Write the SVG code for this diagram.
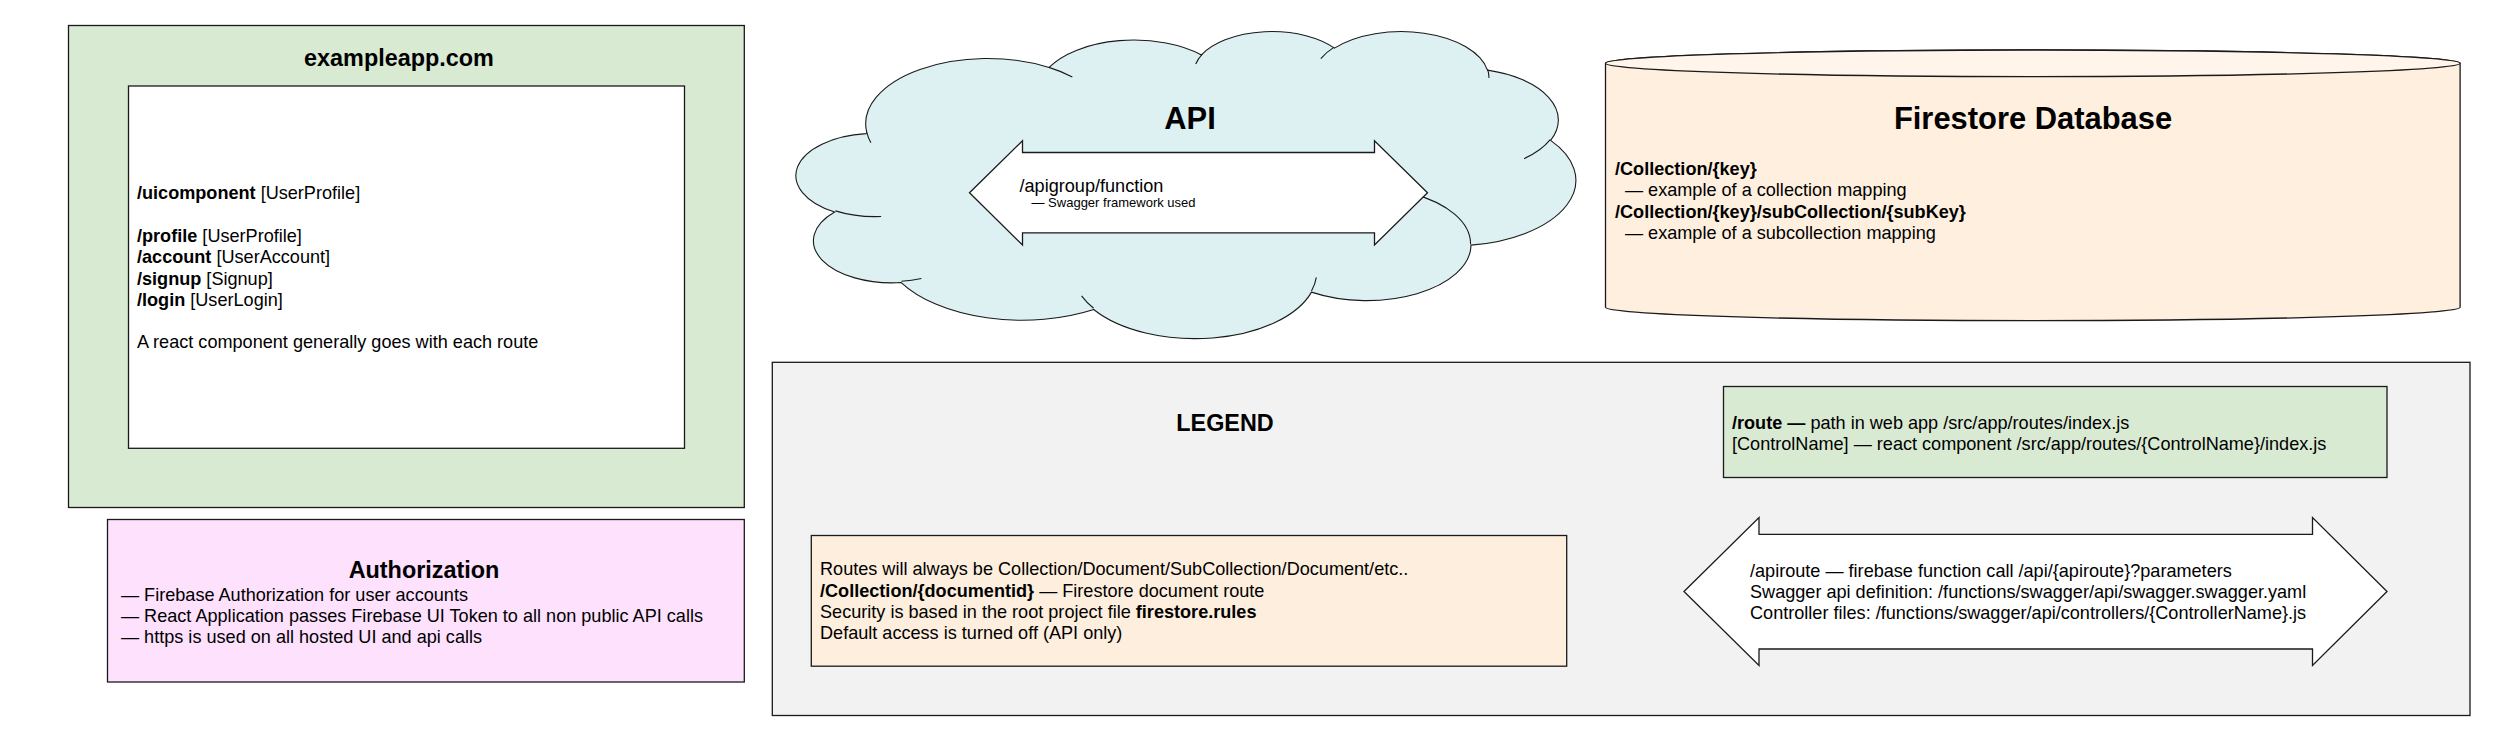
<svg xmlns="http://www.w3.org/2000/svg" width="2500" height="738" viewBox="0 0 2500 738">
<style>
  text { font-family: "Liberation Sans", Arial, sans-serif; fill: #000; }
  .b { font-size: 18.1px; }
  .s { font-size: 13px; }
  .h { font-size: 23.4px; font-weight: bold; }
  .H { font-size: 30.9px; font-weight: bold; }
  .bold { font-weight: bold; }
  .edge { stroke: #1a1a1a; stroke-width: 1.3; }
</style>
<rect x="0" y="0" width="2500" height="738" fill="#ffffff"/>

<g id="exampleapp">
  <rect class="edge" x="68.5" y="25.5" width="675.8" height="482" fill="#d9ead3"/>
  <text class="h" x="399" y="65.5" text-anchor="middle">exampleapp.com</text>
  <rect class="edge" x="128.5" y="86" width="556" height="362.3" fill="#ffffff"/>
  <text class="b" x="137" y="199.3"><tspan class="bold">/uicomponent</tspan> [UserProfile]</text>
  <text class="b" x="137" y="241.9"><tspan class="bold">/profile</tspan> [UserProfile]</text>
  <text class="b" x="137" y="263.2"><tspan class="bold">/account</tspan> [UserAccount]</text>
  <text class="b" x="137" y="284.5"><tspan class="bold">/signup</tspan> [Signup]</text>
  <text class="b" x="137" y="305.8"><tspan class="bold">/login</tspan> [UserLogin]</text>
  <text class="b" x="137" y="348.4">A react component generally goes with each route</text>
</g>

<g id="authorization">
  <rect class="edge" x="107.5" y="519.5" width="636.8" height="162.5" fill="#fde1fd"/>
  <text class="h" x="424" y="578.3" text-anchor="middle">Authorization</text>
  <text class="b" x="121" y="600.6">— Firebase Authorization for user accounts</text>
  <text class="b" x="121" y="621.9">— React Application passes Firebase UI Token to all non public API calls</text>
  <text class="b" x="121" y="643.2">— https is used on all hosted UI and api calls</text>
</g>

<g id="api">
  <g transform="translate(796.5 30.5) scale(0.018032 0.0071065)">
    <path d="M3900 14370 A6753 9190 0 0 1 14006 5203 A5333 7267 0 0 1 22457 3433 A4365 5945 0 0 1 29834 2482 A4857 6595 0 0 1 38320 5577 A5333 7273 0 0 1 41820 15461 A6775 9220 0 0 1 37406 30204 A5785 7867 0 0 1 28558 36815 A6752 9215 0 0 1 16482 39265 A7720 10543 0 0 1 5807 35471 A4360 5918 0 0 1 2115 25550 A4345 5945 0 0 1 3865 14506 Z" fill="#ddf0f2" stroke="#1a1a1a" stroke-width="1.1" vector-effect="non-scaling-stroke"/>
    <path d="M4693 26177 A4345 5945 0 0 1 2160 25380 M6928 34899 A4360 5918 0 0 1 5819 35281 M16478 39090 A6752 9215 0 0 1 15810 37350 M28827 34751 A6752 9215 0 0 1 28560 36660 M34129 22954 A5785 7867 0 0 1 37381 30090 M41798 15354 A5333 7273 0 0 1 40350 18030 M38324 5426 A4857 6595 0 0 1 38400 6690 M29078 3952 A4857 6595 0 0 1 29820 2341 M22141 4720 A4365 5945 0 0 1 22505 3318 M14000 5192 A6753 9190 0 0 1 15298 6538 M4127 15789 A6753 9190 0 0 1 3900 14370" fill="none" stroke="#1a1a1a" stroke-width="1.1" vector-effect="non-scaling-stroke"/>
  </g>
  <text class="H" x="1190" y="129" text-anchor="middle">API</text>
</g>

<g id="api-arrow">
  <polygon class="edge" points="969.5,192.8 1022.5,140.7 1022.5,152.5 1374.5,152.5 1374.5,140.7 1427.5,192.8 1374.5,245 1374.5,232.8 1022.5,232.8 1022.5,245" fill="#ffffff" stroke-width="1.1"/>
  <text class="b" x="1019.5" y="191.7">/apigroup/function</text>
  <text class="s" x="1031.5" y="207">— Swagger framework used</text>
</g>

<g id="firestore">
  <path class="edge" d="M1605.5 63.3 V307.3 A427.3 13.3 0 0 0 2460.1 307.3 V63.3 A427.3 13.3 0 0 0 1605.5 63.3 Z" fill="#feefde" stroke-width="1.1"/>
  <ellipse class="edge" cx="2032.8" cy="63.3" rx="427.3" ry="13.3" fill="#fff5eb" stroke-width="1.1"/>
  <text class="H" x="2033" y="129.3" text-anchor="middle">Firestore Database</text>
  <text class="b bold" x="1615" y="175">/Collection/{key}</text>
  <text class="b" x="1625" y="196.3">— example of a collection mapping</text>
  <text class="b bold" x="1615" y="217.6">/Collection/{key}/subCollection/{subKey}</text>
  <text class="b" x="1625" y="238.9">— example of a subcollection mapping</text>
</g>

<g id="legend">
  <rect class="edge" x="772.3" y="362.3" width="1697.7" height="353.2" fill="#f2f2f2"/>
  <text class="h" x="1225" y="431" text-anchor="middle">LEGEND</text>
</g>

<g id="legend-firestore">
  <rect class="edge" x="811.3" y="535.5" width="755.4" height="130.7" fill="#fdeedd"/>
  <text class="b" x="820" y="575.2">Routes will always be Collection/Document/SubCollection/Document/etc..</text>
  <text class="b" x="820" y="596.5"><tspan class="bold">/Collection/{documentid}</tspan> — Firestore document route</text>
  <text class="b" x="820" y="617.8">Security is based in the root project file <tspan class="bold">firestore.rules</tspan></text>
  <text class="b" x="820" y="639.1">Default access is turned off (API only)</text>
</g>

<g id="legend-route">
  <rect class="edge" x="1723.5" y="386.5" width="663.5" height="91" fill="#d9ead3"/>
  <text class="b" x="1732" y="428.7"><tspan class="bold">/route —</tspan> path in web app /src/app/routes/index.js</text>
  <text class="b" x="1732" y="450">[ControlName] — react component /src/app/routes/{ControlName}/index.js</text>
</g>

<g id="legend-apiroute">
  <polygon class="edge" points="1684,591.5 1759,517.5 1759,534.3 2312.5,534.3 2312.5,517.5 2387,591.5 2312.5,665.5 2312.5,649 1759,649 1759,665.5" fill="#ffffff" stroke-width="1.1"/>
  <text class="b" x="1750" y="576.5">/apiroute — firebase function call /api/{apiroute}?parameters</text>
  <text class="b" x="1750" y="597.8">Swagger api definition: /functions/swagger/api/swagger.swagger.yaml</text>
  <text class="b" x="1750" y="619.1">Controller files: /functions/swagger/api/controllers/{ControllerName}.js</text>
</g>

<g id="connectors"></g>
</svg>
